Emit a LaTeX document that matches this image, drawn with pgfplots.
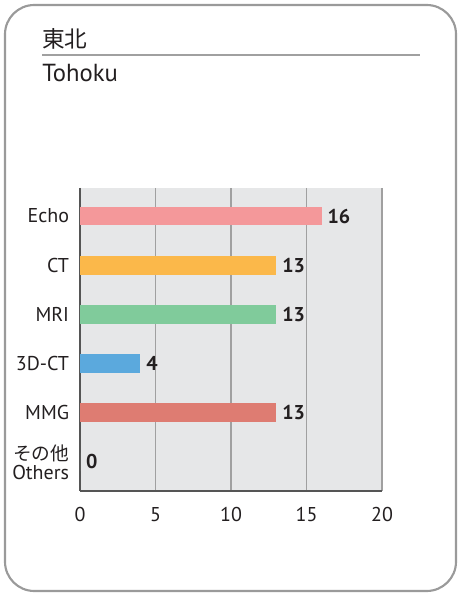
\documentclass[border=0pt]{standalone}
\usepackage{pgfplots}
\pgfplotsset{compat=1.18}
\usepackage{fontspec}
\setmainfont{PT Sans}
\newfontfamily\cjk{Noto Sans CJK JP}
\definecolor{bgc}{HTML}{E6E7E8}
\definecolor{echoc}{HTML}{F4989A}
\definecolor{ctc}{HTML}{FBB84A}
\definecolor{mric}{HTML}{80CB9B}
\definecolor{tdc}{HTML}{5BA9DD}
\definecolor{mmgc}{HTML}{DE7C72}
\definecolor{gridc}{HTML}{A0A0A0}
\definecolor{axc}{HTML}{555555}
\definecolor{boxc}{HTML}{9A9A9A}
\definecolor{txt}{HTML}{231F20}
\begin{document}
\begin{tikzpicture}[x=0.75pt,y=0.75pt]
\useasboundingbox (0,0) rectangle (461,596);
\draw[boxc,line width=1.6pt,rounded corners=22pt] (5,5) rectangle (456,591);
\node[anchor=base west,inner sep=0pt,text=txt] at (42,548) {\cjk\fontsize{17}{19}\selectfont 東北};
\draw[gridc,line width=0.8pt] (42,541) -- (420,541);
\node[anchor=base west,inner sep=0pt,text=txt] at (42,514) {\fontsize{18.5}{20}\selectfont Tohoku};
\coordinate (A) at (80,105);
\begin{axis}[
  at={(A)}, anchor=south west,
  scale only axis, width=226.5pt, height=227.25pt,
  xbar, bar width=14pt, bar shift=0pt,
  xmin=0, xmax=20, ymin=-0.57, ymax=5.59, y dir=reverse,
  xtick={0,5,10,15,20},
  ytick={0,1,2,3,4,5},
  yticklabels={Echo,CT,MRI,3D-CT,MMG,{\cjk\fontsize{14}{14}\selectfont その他}\\Others},
  yticklabel style={align=right, font=\fontsize{15}{14.5}\selectfont, text=txt, inner sep=0pt, xshift=-8pt},
  xticklabel style={font=\fontsize{15}{15}\selectfont, text=txt, yshift=-9pt},
  /pgf/number format/assume math mode=true,
  major tick length=0pt,
  axis x line*=bottom, axis y line*=left,
  axis line style={axc, line width=1.5pt},
  axis background/.style={fill=bgc},
  xmajorgrids, major grid style={gridc, line width=0.8pt},
  nodes near coords,
  nodes near coords style={font=\bfseries\fontsize{15}{15}\selectfont, text=txt, anchor=west, xshift=1pt},
]
\addplot[fill=echoc, draw=none] coordinates {(16,0)};
\addplot[fill=ctc, draw=none] coordinates {(13,1)};
\addplot[fill=mric, draw=none] coordinates {(13,2)};
\addplot[fill=tdc, draw=none] coordinates {(4,3)};
\addplot[fill=mmgc, draw=none] coordinates {(13,4)};
\addplot[fill=gray, draw=none] coordinates {(0,5)};
\end{axis}
\end{tikzpicture}
\end{document}
